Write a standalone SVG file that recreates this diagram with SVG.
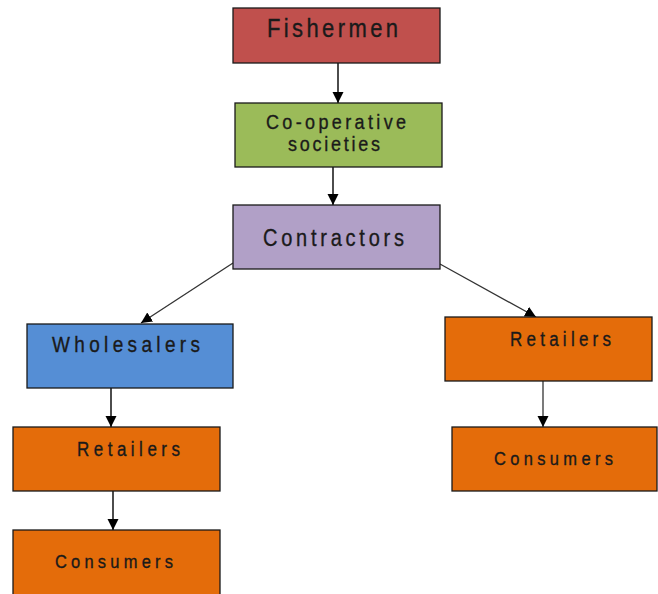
<svg xmlns="http://www.w3.org/2000/svg" width="658" height="594" viewBox="0 0 658 594">
<defs>
<marker id="ah" markerUnits="userSpaceOnUse" markerWidth="12" markerHeight="12" viewBox="0 0 12 12" refX="11" refY="6" orient="auto">
<path d="M0,0.5 L11,6 L0,11.5 Z" fill="#000"/>
</marker>
</defs>
<style>
.box{stroke:#1a1a1a;stroke-width:1.3}
.t{font-family:"Liberation Sans",Arial,sans-serif;fill:#1a1a1a;stroke:#1a1a1a;stroke-width:0.3}
.c{stroke:#000;stroke-width:1.4;fill:none;marker-end:url(#ah)}
.cg{stroke:#333;stroke-width:1.3;fill:none;marker-end:url(#ah)}
</style>
<rect width="658" height="594" fill="#fff"/>
<g id="connectors">
<line class="c" x1="338" y1="56" x2="338" y2="103"/>
<line class="c" x1="333" y1="162" x2="333" y2="205"/>
<line class="cg" x1="233" y1="263" x2="141" y2="323"/>
<line class="cg" x1="440" y1="264" x2="536" y2="317"/>
<line class="c" x1="111" y1="373" x2="111" y2="427"/>
<line class="c" x1="113" y1="477" x2="113" y2="530"/>
<line class="cg" x1="543" y1="381" x2="543" y2="427"/>
</g>
<g id="fishermen">
<rect class="box" x="233" y="8" width="207" height="55" fill="#C0504D"/>
<text class="t" transform="matrix(1 0 0 1.15 0 -5.55)" x="267" y="37" font-size="22" textLength="131" lengthAdjust="spacing">Fishermen</text>
</g>
<g id="cooperative">
<rect class="box" x="235" y="103" width="207" height="64" fill="#9BBB59"/>
<text class="t" transform="matrix(1 0 0 1.15 0 -19.35)" x="266" y="129" font-size="18" textLength="140" lengthAdjust="spacing">Co-operative</text>
<text class="t" transform="matrix(1 0 0 1.15 0 -22.65)" x="288" y="151" font-size="18" textLength="92" lengthAdjust="spacing">societies</text>
</g>
<g id="contractors">
<rect class="box" x="233" y="205" width="207" height="64" fill="#B1A0C7"/>
<text class="t" transform="matrix(1 0 0 1.15 0 -36.9)" x="263" y="246" font-size="20" textLength="141" lengthAdjust="spacing">Contractors</text>
</g>
<g id="wholesalers">
<rect class="box" x="27" y="324" width="206" height="64" fill="#558ED5"/>
<text class="t" transform="matrix(1 0 0 1.15 0 -52.8)" x="52" y="352" font-size="19" textLength="148" lengthAdjust="spacing">Wholesalers</text>
</g>
<g id="retailers-left">
<rect class="box" x="13" y="427" width="207" height="64" fill="#E46C0A"/>
<text class="t" transform="matrix(1 0 0 1.15 0 -68.4)" x="77" y="456" font-size="17" textLength="103" lengthAdjust="spacing">Retailers</text>
</g>
<g id="consumers-left">
<rect class="box" x="13" y="530" width="207" height="70" fill="#E46C0A"/>
<text class="t" transform="matrix(1 0 0 1.15 0 -85.2)" x="55" y="568" font-size="16.5" textLength="118" lengthAdjust="spacing">Consumers</text>
</g>
<g id="retailers-right">
<rect class="box" x="445" y="317" width="207" height="64" fill="#E46C0A"/>
<text class="t" transform="matrix(1 0 0 1.15 0 -51.9)" x="510" y="346" font-size="17" textLength="101" lengthAdjust="spacing">Retailers</text>
</g>
<g id="consumers-right">
<rect class="box" x="452" y="427" width="205" height="64" fill="#E46C0A"/>
<text class="t" transform="matrix(1 0 0 1.15 0 -69.75)" x="494" y="465" font-size="16.5" textLength="119" lengthAdjust="spacing">Consumers</text>
</g>
</svg>
